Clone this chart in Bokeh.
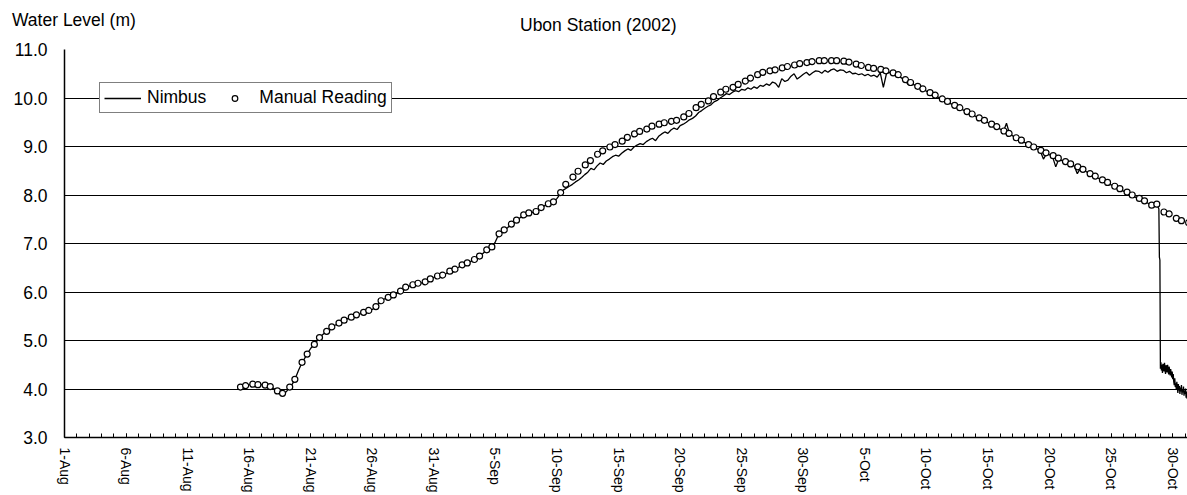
import pandas as pd
from bokeh.plotting import figure
from bokeh.layouts import column
from bokeh.models import (Range1d, FixedTicker, CustomJSTickFormatter, PrintfTickFormatter,
                          Legend, LegendItem, Div, ColumnDataSource)
from bokeh.embed import file_html
from bokeh.resources import INLINE

FONT = "Liberation Sans"

chart_title = "Ubon Station (2002)"
level_title = "Water Level (m)"
series_names = ["Nimbus", "Manual Reading"]
y_ticks = [3.0, 4.0, 5.0, 6.0, 7.0, 8.0, 9.0, 10.0, 11.0]

# Manual gauge readings, taken at 07:00 and 17:00 each day from 15-Aug
manual_level = [
    4.04, 4.07, 4.10, 4.09, 4.08, 4.05, 3.96, 3.91,          # 15-18 Aug
    4.04, 4.20, 4.55, 4.72, 4.92, 5.06, 5.19, 5.28,          # 19-22 Aug
    5.36, 5.42, 5.48, 5.53, 5.58, 5.62, 5.70, 5.82,          # 23-26 Aug
    5.89, 5.94, 6.02, 6.10, 6.15, 6.18, 6.21, 6.27,          # 27-30 Aug
    6.33, 6.35, 6.43, 6.47, 6.56, 6.60, 6.67, 6.74,          # 31 Aug-3 Sep
    6.87, 6.93, 7.20, 7.28, 7.40, 7.48, 7.59, 7.63,          # 4-7 Sep
    7.66, 7.74, 7.82, 7.86, 8.05, 8.22, 8.37, 8.49,          # 8-11 Sep
    8.62, 8.71, 8.84, 8.91, 8.99, 9.04, 9.11, 9.19,          # 12-15 Sep
    9.26, 9.31, 9.36, 9.42, 9.46, 9.49, 9.52, 9.54,          # 16-19 Sep
    9.61, 9.68, 9.80, 9.87, 9.94, 10.03, 10.12, 10.18,       # 20-23 Sep
    10.22, 10.28, 10.35, 10.41, 10.48, 10.53, 10.56, 10.58,  # 24-27 Sep
    10.62, 10.65, 10.68, 10.71, 10.73, 10.75, 10.77, 10.77,  # 28 Sep-1 Oct
    10.77, 10.77, 10.76, 10.74, 10.70, 10.67, 10.63, 10.61,  # 2-5 Oct
    10.59, 10.56, 10.52, 10.48, 10.38, 10.32, 10.24, 10.19,  # 6-9 Oct
    10.11, 10.06, 9.98, 9.93, 9.85, 9.80, 9.72, 9.67,        # 10-13 Oct
    9.59, 9.54, 9.46, 9.41, 9.32, 9.27, 9.18, 9.13,          # 14-17 Oct
    9.04, 8.99, 8.92, 8.87, 8.81, 8.76, 8.69, 8.64,          # 18-21 Oct
    8.58, 8.53, 8.44, 8.39, 8.31, 8.26, 8.18, 8.13,          # 22-25 Oct
    8.06, 8.00, 7.93, 7.88, 7.79, 7.81, 7.65, 7.61,          # 26-29 Oct
    7.52, 7.47, 7.43,                                        # 30-31 Oct
]

# Nimbus logger, 6-hourly values from 15-Aug 06:00 to 28-Oct 18:00
nimbus_level = [
    4.03, 4.05, 4.07, 4.09,  4.10, 4.10, 4.09, 4.09,  4.08, 4.07, 4.05, 4.01,   # 15-17 Aug
    3.97, 3.92, 3.91, 3.94,  4.02, 4.10, 4.22, 4.38,  4.52, 4.63, 4.74, 4.84,   # 18-20 Aug
    4.91, 4.99, 5.07, 5.13,  5.18, 5.23, 5.28, 5.32,  5.35, 5.39, 5.42, 5.45,   # 21-23 Aug
    5.47, 5.50, 5.53, 5.55,  5.57, 5.59, 5.62, 5.64,  5.69, 5.76, 5.82, 5.86,   # 24-26 Aug
    5.88, 5.91, 5.94, 5.97,  6.01, 6.06, 6.10, 6.12,  6.14, 6.16, 6.18, 6.19,   # 27-29 Aug
    6.21, 6.24, 6.27, 6.30,  6.32, 6.34, 6.35, 6.38,                            # 30-31 Aug
    6.42, 6.45, 6.47, 6.51,  6.55, 6.58, 6.60, 6.63,  6.66, 6.70, 6.74, 6.80,   # 1-3 Sep
    6.86, 6.89, 6.93, 7.04,  7.18, 7.24, 7.28, 7.33,  7.39, 7.44, 7.48, 7.53,   # 4-6 Sep
    7.58, 7.61, 7.63, 7.64,  7.66, 7.70, 7.74, 7.78,  7.81, 7.84, 7.86, 7.93,   # 7-9 Sep
    8.02, 8.10, 8.14, 8.18,  8.22, 8.27, 8.31, 8.36,  8.42, 8.47, 8.55, 8.52,   # 10-12 Sep
    8.60, 8.66, 8.63, 8.70,  8.74, 8.79, 8.82, 8.80,  8.86, 8.91, 8.95, 8.92,   # 13-15 Sep
    8.99, 9.03, 9.06, 9.04,  9.10, 9.14, 9.17, 9.12,  9.21, 9.26, 9.30, 9.27,   # 16-18 Sep
    9.34, 9.38, 9.35, 9.43,  9.46, 9.50, 9.55, 9.58,  9.63, 9.70, 9.74, 9.79,   # 19-21 Sep
    9.83, 9.86, 9.92, 9.95,  10.00, 10.04, 10.09, 10.07,  10.12, 10.15, 10.13, 10.18,  # 22-24 Sep
    10.16, 10.21, 10.18, 10.23,  10.20, 10.26, 10.24, 10.29,  10.26, 10.33, 10.30, 10.22,  # 25-27 Sep
    10.40, 10.34, 10.37, 10.45,  10.50, 10.39, 10.44, 10.49,  10.53, 10.47, 10.52, 10.56,  # 28-30 Sep
    10.55, 10.51, 10.57, 10.53,  10.58, 10.60, 10.55, 10.58,  10.57, 10.52, 10.55, 10.50,  # 1-3 Oct
    10.51, 10.48, 10.50, 10.46,  10.49, 10.45, 10.47, 10.43,  10.52, 10.22, 10.50, 10.53,  # 4-6 Oct
    10.50, 10.48, 10.45, 10.41,  10.36, 10.28, 10.31, 10.27,  10.23, 10.20, 10.17, 10.14,  # 7-9 Oct
    10.10, 10.08, 10.04, 10.01,  9.97, 9.95, 9.91, 9.88,  9.84, 9.82, 9.78, 9.75,          # 10-12 Oct
    9.71, 9.69, 9.65, 9.62,  9.58, 9.55, 9.52, 9.49,  9.45, 9.42, 9.39, 9.36,   # 13-15 Oct
    9.31, 9.48, 9.26, 9.22,  9.17, 9.15, 9.11, 9.08,  9.03, 9.00, 8.97, 8.95,   # 16-18 Oct
    8.90, 8.74, 8.85, 8.83,  8.78, 8.58, 8.74, 8.71,  8.67, 8.65, 8.62, 8.60,   # 19-21 Oct
    8.44, 8.55, 8.51, 8.48,  8.43, 8.40, 8.37, 8.34,  8.30, 8.27, 8.24, 8.21,   # 22-24 Oct
    8.17, 8.15, 8.11, 8.08,  8.05, 8.02, 7.98, 7.95,  7.92, 7.89, 7.86, 7.83,   # 25-27 Oct
    7.78, 7.80, 7.76,                                                           # 28 Oct
]

# Nimbus logger, hourly values from 28-Oct 19:00 (sensor drop-out)
nimbus_tail_level = [
    7.75, 7.74, 7.71, 6.72, 6.66,
    4.42, 4.55, 4.38, 4.50, 4.33, 4.52, 4.47, 4.36, 4.54, 4.40, 4.31, 4.49,
    4.45, 4.34, 4.50, 4.42, 4.30, 4.46, 4.38, 4.28, 4.41, 4.33, 4.24, 4.36,
    4.20, 4.31, 4.15, 4.08, 4.22, 4.04, 4.12, 3.98, 4.15, 4.02, 3.92, 4.10,
    3.97, 4.06, 3.90, 4.03, 3.95, 4.08, 3.88, 4.00, 3.93, 4.05, 3.86, 3.97,
    3.90, 4.01, 3.82, 3.95, 3.80, 3.92, 3.78,
]

# ---- time stamps -------------------------------------------------------
reading_days = pd.date_range("2002-08-15", "2002-10-31", freq="D")
manual_time = [d + pd.Timedelta(hours=h) for d in reading_days for h in (7, 17)][:len(manual_level)]

nimbus_time = list(pd.date_range("2002-08-15 06:00", periods=len(nimbus_level), freq="6h")) + \
    list(pd.date_range("2002-10-28 19:00", periods=len(nimbus_tail_level), freq="h"))
nimbus_all = nimbus_level + nimbus_tail_level

nimbus_src = ColumnDataSource(dict(t=nimbus_time, level=nimbus_all))
manual_src = ColumnDataSource(dict(t=manual_time, level=manual_level))

x_start = pd.Timestamp("2002-08-01 00:00")
x_end = pd.Timestamp("2002-10-31 04:48")

# ---- header strip carrying the axis caption and the chart title -----------
HEADER_H = 37
header = Div(
    text=(f'<div style="position:relative;width:1187px;height:{HEADER_H}px;'
          f'font-family:\'{FONT}\';font-size:17.5px;line-height:20px;color:#000;white-space:nowrap;">'
          f'<span style="position:absolute;left:12px;top:10px;">{level_title}</span>'
          f'<span style="position:absolute;left:520px;top:15px;">{chart_title}</span></div>'),
    width=1187, height=HEADER_H, margin=(0, 0, 0, 0))

# ---- main chart ------------------------------------------------------------
p = figure(width=1187, height=495 - HEADER_H, x_axis_type="datetime",
           x_range=Range1d(x_start, x_end), y_range=Range1d(3.0, 11.0),
           output_backend="svg", toolbar_location=None,
           min_border_left=64, min_border_right=0, min_border_top=49 - HEADER_H,
           min_border_bottom=0)
p.title.visible = False
p.outline_line_color = None
p.background_fill_color = "white"
p.border_fill_color = "white"

to_ms = lambda ts: int(ts.value // 10**6)
major = [to_ms(t) for t in pd.date_range("2002-08-01", "2002-10-30", freq="5D")]
minor = [to_ms(t) for t in pd.date_range("2002-08-01", "2002-10-31", freq="D")]

xa = p.xaxis[0]
xa.ticker = FixedTicker(ticks=major, minor_ticks=minor)
xa.formatter = CustomJSTickFormatter(code="""
    const m = ["Jan","Feb","Mar","Apr","May","Jun","Jul","Aug","Sep","Oct","Nov","Dec"];
    const d = new Date(tick);
    return d.getUTCDate() + "-" + m[d.getUTCMonth()];
""")
xa.major_label_orientation = "vertical"
xa.major_label_text_font = FONT
xa.major_label_text_font_size = "14px"
xa.major_label_text_color = "black"
xa.major_label_standoff = 10
xa.major_tick_in = 4
xa.major_tick_out = 0
xa.minor_tick_in = 4
xa.minor_tick_out = 0
xa.major_tick_line_color = "black"
xa.minor_tick_line_color = "black"
xa.axis_line_color = "black"
xa.axis_line_width = 1.5

ya = p.yaxis[0]
ya.ticker = FixedTicker(ticks=y_ticks)
ya.formatter = PrintfTickFormatter(format="%.1f")
ya.major_label_text_font = FONT
ya.major_label_text_font_size = "17.5px"
ya.major_label_text_color = "black"
ya.major_label_standoff = 17
ya.major_tick_in = 0
ya.major_tick_out = 0
ya.minor_tick_line_color = None
ya.axis_line_color = "black"
ya.axis_line_width = 1.5

p.xgrid.visible = False
p.ygrid.grid_line_color = "black"
p.ygrid.grid_line_width = 1

nimbus_r = p.line("t", "level", source=nimbus_src, line_color="black", line_width=1.3)
manual_r = p.scatter("t", "level", source=manual_src, marker="circle", size=6,
                     fill_color="white", line_color="black", line_width=1.2)

legend = Legend(items=[LegendItem(label=series_names[0], renderers=[nimbus_r]),
                       LegendItem(label=series_names[1], renderers=[manual_r])],
                location=(35, 324), orientation="horizontal",
                label_text_font=FONT, label_text_font_size="17.5px", label_text_color="black",
                glyph_width=37, glyph_height=14, label_height=14, label_standoff=6,
                spacing=10, padding=4, margin=0,
                border_line_color="black", border_line_width=1,
                background_fill_color="white", background_fill_alpha=1.0)
p.add_layout(legend)

layout = column(header, p, spacing=0)
open("out.html", "w").write(file_html(layout, INLINE))
